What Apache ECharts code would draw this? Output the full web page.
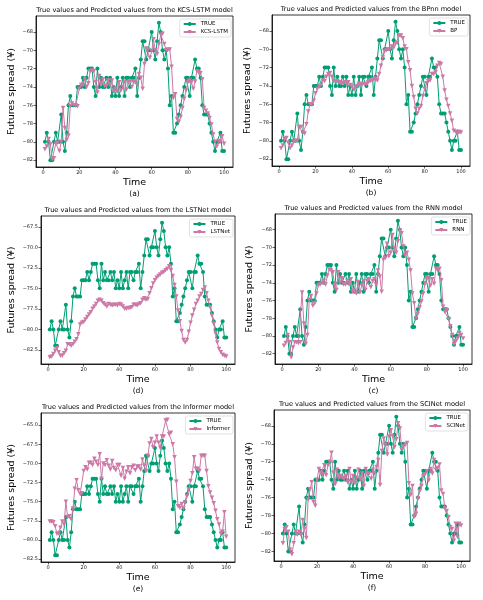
<!DOCTYPE html>
<html>
<head>
<meta charset="utf-8">
<script src="https://cdn.jsdelivr.net/npm/echarts@6/dist/echarts.min.js"></script>
<style>html,body{margin:0;padding:0;background:#fff;}#c{width:483px;height:600px;}</style>
</head>
<body>
<div id="c"></div>
<script>
// ---- Data (time steps 1..100) ----
const trueVals = [-80,-79,-80,-82,-82,-80,-79,-80,-80,-77,-80,-81,-79,-76,-75,-76,-76,-76,-74,-74,
 -74,-73,-74,-73,-72,-72,-72,-74,-75,-72,-74,-73,-74,-74,-73,-74,-73,-75,-74,-75,
 -73,-75,-74,-73,-75,-73,-73,-74,-73,-73,-72,-75,-73,-71,-69,-69,-71,-70,-70,-68,
 -70,-71,-69,-67,-68,-70,-71,-70,-72,-76,-75,-79,-79,-78,-77,-76,-75,-74,-73,-73,
 -75,-73,-73,-71,-72,-72,-73,-76,-77,-77,-77,-78,-79,-80,-81,-80,-80,-79,-81,-81];

const predKCS = [-80.8,-80.5,-79.7,-80.3,-81.9,-81.8,-80.2,-80.1,-81.0,-80.0,-76.3,-78.5,-79.8,-79.3,-76.1,-75.8,-76.0,-76.0,-76.1,-74.2,
 -73.8,-73.8,-73.2,-74.0,-73.6,-72.3,-72.2,-72.3,-73.5,-74.6,-72.8,-73.7,-73.2,-73.9,-73.9,-73.3,-73.8,-73.3,-74.5,-74.2,
 -74.5,-73.5,-74.4,-74.0,-73.4,-74.3,-73.5,-73.4,-74.0,-73.5,-73.4,-73.8,-72.6,-73.0,-74.2,-71.5,-69.8,-69.9,-70.8,-70.1,
 -68.8,-70.0,-70.4,-69.3,-68.3,-68.2,-69.3,-70.0,-69.9,-69.9,-71.8,-75.2,-74.8,-77.5,-77.8,-77.3,-76.3,-75.3,-74.4,-73.5,
 -73.3,-73.5,-74.2,-73.4,-72.3,-72.4,-72.5,-73.2,-76.3,-76.6,-76.9,-77.4,-78.1,-79.2,-80.0,-80.5,-79.9,-80.0,-79.4,-80.2];

const predBP = [-80.8,-80.5,-79.8,-79.7,-80.2,-80.8,-80.5,-80.1,-80.0,-80.0,-78.5,-78.5,-79.1,-79.2,-78.2,-76.8,-76.0,-76.0,-75.6,-74.8,
 -74.3,-74.1,-73.9,-73.4,-73.5,-73.0,-72.7,-72.6,-73.0,-73.5,-73.5,-73.5,-73.6,-73.7,-73.7,-73.6,-73.7,-73.6,-73.9,-74.1,
 -74.4,-74.1,-74.0,-73.8,-73.9,-73.8,-73.8,-73.8,-73.6,-73.5,-73.4,-73.3,-73.2,-73.4,-72.7,-71.8,-70.9,-70.2,-70.1,-70.0,
 -70.0,-69.7,-69.8,-69.4,-69.3,-68.5,-68.5,-68.8,-69.7,-70.0,-71.4,-72.3,-74.0,-75.2,-76.5,-77.0,-76.5,-76.2,-75.1,-74.3,
 -73.7,-73.5,-73.4,-72.7,-72.7,-72.5,-71.8,-71.5,-71.6,-73.0,-74.5,-75.5,-76.2,-77.0,-77.8,-78.9,-79.0,-79.2,-79.0,-79.1];

const predLSTNet = [-83.4,-83.3,-83.0,-82.6,-82.3,-82.8,-83.2,-83.2,-82.9,-82.6,-81.8,-81.8,-82.0,-81.8,-81.5,-81.2,-80.6,-79.4,-79.2,-79.1,
 -78.8,-78.5,-78.2,-77.9,-77.5,-77.2,-76.9,-76.5,-76.4,-76.5,-76.8,-77.0,-77.2,-76.9,-77.0,-77.1,-77.0,-77.0,-77.1,-76.9,
 -77.0,-77.2,-77.5,-77.5,-77.4,-77.4,-77.3,-77.0,-77.0,-77.1,-76.9,-76.8,-76.4,-76.2,-76.4,-76.3,-75.6,-75.0,-74.4,-74.0,
 -73.7,-73.5,-73.3,-73.1,-73.0,-72.8,-72.6,-72.3,-72.8,-73.5,-74.6,-76.0,-77.7,-79.0,-80.2,-81.3,-81.6,-81.3,-80.3,-79.2,
 -78.3,-77.6,-76.9,-76.5,-76.0,-75.7,-75.2,-74.9,-75.6,-76.5,-77.3,-78.3,-79.3,-80.5,-81.6,-82.4,-82.8,-83.1,-83.2,-83.3];

const predRNN = [-81.1,-80.8,-79.9,-80.7,-82.4,-81.3,-80.7,-80.7,-80.8,-80.7,-75.1,-78.6,-80.9,-79.9,-75.9,-75.5,-76.6,-76.3,-75.2,-74.3,
 -74.2,-74.0,-73.8,-74.2,-73.2,-72.5,-72.6,-72.8,-74.3,-74.8,-72.8,-74.0,-73.5,-74.2,-74.2,-73.8,-74.2,-73.6,-75.0,-74.9,
 -75.2,-73.9,-75.1,-74.3,-73.8,-74.8,-73.8,-73.6,-74.5,-73.8,-73.6,-74.2,-72.6,-73.3,-75.0,-71.4,-71.2,-69.6,-71.0,-70.6,
 -68.6,-70.1,-70.6,-69.3,-68.1,-68.4,-69.9,-70.9,-70.6,-71.4,-72.6,-75.2,-76.3,-78.0,-77.5,-76.8,-76.1,-75.2,-74.1,-73.4,
 -73.5,-74.3,-73.6,-74.1,-72.4,-72.6,-72.4,-73.7,-76.7,-77.3,-77.1,-78.1,-78.9,-79.9,-80.9,-80.6,-80.3,-79.7,-79.9,-80.3];

const predInformer = [-77.6,-77.6,-77.7,-78.2,-79.2,-79.2,-78.4,-77.6,-78.0,-75.0,-77.0,-76.9,-77.3,-75.9,-73.3,-72.2,-73.5,-74.0,-73.9,-71.0,
 -70.5,-70.8,-69.9,-69.9,-70.2,-69.4,-69.8,-70.2,-68.8,-72.0,-70.0,-70.2,-69.6,-70.3,-70.8,-69.7,-70.6,-70.9,-70.2,-70.2,
 -71.6,-70.6,-72.0,-71.1,-70.5,-71.3,-70.5,-70.3,-70.9,-70.4,-70.4,-70.8,-69.5,-70.3,-71.0,-69.0,-67.4,-66.8,-67.9,-67.3,
 -66.5,-67.3,-68.0,-66.5,-66.5,-64.4,-64.3,-66.2,-66.0,-67.5,-69.2,-72.4,-75.6,-75.8,-75.3,-75.9,-75.1,-74.3,-73.4,-72.3,
 -71.3,-69.2,-70.7,-70.7,-71.0,-69.0,-69.0,-69.0,-71.0,-73.0,-73.8,-74.5,-75.2,-76.2,-77.3,-78.0,-79.2,-78.9,-76.4,-79.6];

const predSCINet = [-81.1,-79.5,-79.3,-79.8,-81.8,-82.3,-81.1,-79.8,-80.1,-79.8,-80.1,-78.5,-79.5,-80.5,-76.2,-75.1,-74.3,-76.5,-76.9,-74.0,
 -72.8,-73.2,-73.4,-72.4,-73.5,-72.4,-72.0,-71.0,-73.2,-74.5,-72.9,-73.8,-73.6,-73.8,-73.9,-73.6,-74.3,-72.8,-74.3,-73.6,
 -74.4,-73.8,-72.9,-74.0,-73.3,-74.7,-72.8,-73.4,-73.3,-73.9,-72.9,-73.3,-72.6,-71.8,-74.6,-70.8,-69.4,-70.1,-71.2,-69.2,
 -68.5,-69.2,-70.4,-69.5,-67.7,-68.3,-70.6,-70.3,-70.1,-69.9,-74.4,-75.7,-74.7,-78.1,-77.8,-76.1,-75.3,-74.7,-73.6,-73.4,
 -73.1,-74.1,-72.8,-73.3,-71.8,-72.9,-72.7,-72.3,-75.2,-75.6,-77.2,-77.5,-78.2,-79.3,-79.5,-80.8,-78.9,-80.4,-78.9,-79.1];

const xTicks = [0, 20, 40, 60, 80, 100];
const yTicksInt = [-82, -80, -78, -76, -74, -72, -70, -68];
const yTicksLSTNet = [-82.5, -80.0, -77.5, -75.0, -72.5, -70.0, -67.5];
const yTicksInformer = [-82.5, -80.0, -77.5, -75.0, -72.5, -70.0, -67.5, -65.0];

const models = ['KCS-LSTM', 'BPnn', 'LSTNet', 'RNN', 'Informer', 'SCINet'];
const legendNames = ['KCS-LSTM', 'BP', 'LSTNet', 'RNN', 'Informer', 'SCINet'];
const panelLabels = ['(a)', '(b)', '(d)', '(c)', '(e)', '(f)'];

// ---- Layout ----
const preds = [predKCS, predBP, predLSTNet, predRNN, predInformer, predSCINet];
const yTicks = [yTicksInt, yTicksInt, yTicksLSTNet, yTicksInt, yTicksInformer, yTicksInt];
const decimals = [0, 0, 1, 0, 1, 0];
const grids = [
  {left: 36, top: 16, width: 197, height: 151},
  {left: 272, top: 15, width: 198, height: 151},
  {left: 41, top: 216, width: 194, height: 148},
  {left: 275, top: 214, width: 197, height: 150},
  {left: 41, top: 413, width: 194, height: 149},
  {left: 274, top: 410, width: 196, height: 151}
];
const yNameGaps = [19, 19, 24, 20, 24, 19];

const GREEN = '#009E73', PINK = '#CC79A7';
const FONT = '"DejaVu Sans", sans-serif';
const minus = s => String(s).replace('-', '\u2212');

const option = {
  animation: false,
  backgroundColor: '#fff',
  grid: [], xAxis: [], yAxis: [], series: [], legend: [], graphic: []
};

grids.forEach((g, i) => {
  const p = preds[i];
  const all = trueVals.concat(p);
  const lo = Math.min(...all), hi = Math.max(...all);
  const pad = (hi - lo) * 0.05;
  option.grid.push({left: g.left, top: g.top, width: g.width, height: g.height,
    show: true, borderColor: '#000', borderWidth: 0.8, backgroundColor: 'transparent'});
  option.xAxis.push({
    type: 'value', gridIndex: i, min: 1 - 99 * 0.05, max: 100 + 99 * 0.05,
    name: 'Time', nameLocation: 'middle', nameGap: 11,
    nameTextStyle: {fontSize: 9.5, color: '#000', fontFamily: FONT},
    splitLine: {show: false},
    axisLine: {onZero: false, lineStyle: {color: '#000', width: 0.8}},
    axisTick: {customValues: xTicks, length: 2.5, lineStyle: {color: '#000', width: 0.6}},
    axisLabel: {customValues: xTicks, fontSize: 5, color: '#222', margin: 3, fontFamily: FONT}
  });
  option.yAxis.push({
    type: 'value', gridIndex: i, min: lo - pad, max: hi + pad,
    name: 'Futures spread (\u00a5)', nameLocation: 'middle', nameGap: yNameGaps[i],
    nameTextStyle: {fontSize: 9.5, color: '#000', fontFamily: FONT},
    splitLine: {show: false},
    axisLine: {show: true, onZero: false, lineStyle: {color: '#000', width: 0.8}},
    axisTick: {show: true, customValues: yTicks[i], length: 2.5, lineStyle: {color: '#000', width: 0.6}},
    axisLabel: {customValues: yTicks[i], fontSize: 5, color: '#222', margin: 3, fontFamily: FONT,
      formatter: v => minus(Number(v).toFixed(decimals[i]))}
  });
  option.series.push({
    name: 'TRUE', type: 'line', xAxisIndex: i, yAxisIndex: i,
    data: trueVals.map((v, k) => [k + 1, v]),
    symbol: 'circle', symbolSize: 4, showSymbol: true,
    lineStyle: {color: GREEN, width: 1}, itemStyle: {color: GREEN},
    z: 2
  });
  option.series.push({
    name: legendNames[i], type: 'line', xAxisIndex: i, yAxisIndex: i,
    data: p.map((v, k) => [k + 1, v]),
    symbol: 'triangle', symbolRotate: 180, symbolSize: 4.5, showSymbol: true,
    lineStyle: {color: PINK, width: 1}, itemStyle: {color: PINK},
    z: 3
  });
  option.legend.push({
    data: ['TRUE', legendNames[i]], orient: 'vertical',
    right: 483 - (g.left + g.width) + 2, top: g.top + 3,
    itemWidth: 12, itemHeight: 5, itemGap: 2, padding: [2, 3, 2, 3],
    borderColor: '#ccc', borderWidth: 0.6, borderRadius: 2, backgroundColor: 'rgba(255,255,255,0.8)',
    textStyle: {fontSize: 5.5, color: '#000', fontFamily: FONT}
  });
  option.graphic.push({
    type: 'text', x: g.left + g.width / 2, y: g.top - 6, silent: true,
    style: {text: 'True values and Predicted values from the ' + models[i] + ' model',
      align: 'center', verticalAlign: 'middle', font: '6.6px ' + FONT, fill: '#000'}
  });
  option.graphic.push({
    type: 'text', x: g.left + g.width / 2, y: g.top + g.height + 27, silent: true,
    style: {text: panelLabels[i], align: 'center', verticalAlign: 'middle', font: '7.5px ' + FONT, fill: '#000'}
  });
});

const chart = echarts.init(document.getElementById('c'), null, {renderer: 'canvas'});
chart.setOption(option);
</script>
</body>
</html>
